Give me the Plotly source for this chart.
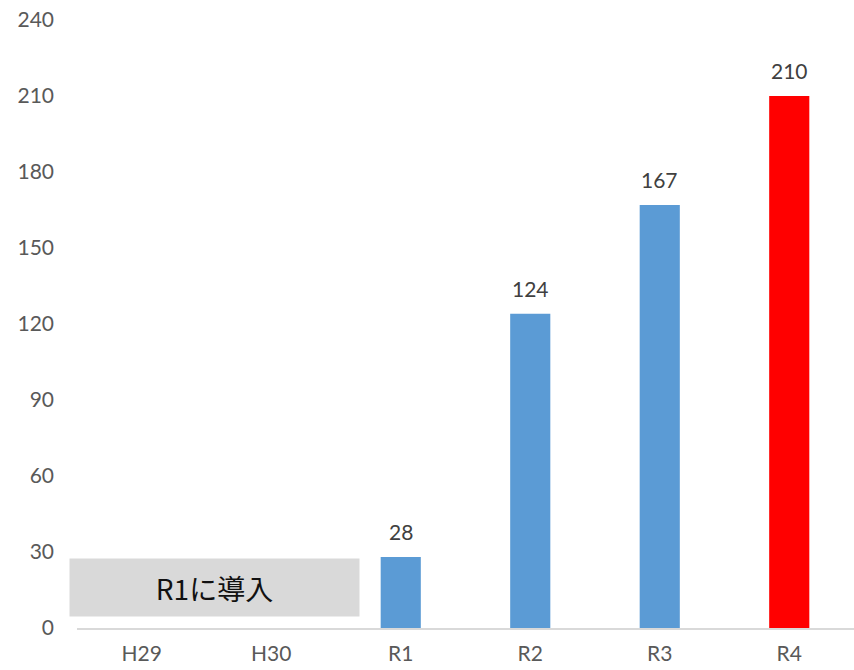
import plotly.graph_objects as go

# Fiscal years and counts
years = ["H29", "H30", "R1", "R2", "R3", "R4"]
counts = [None, None, 28, 124, 167, 210]
bar_colors = ["#5B9BD5", "#5B9BD5", "#5B9BD5", "#5B9BD5", "#5B9BD5", "#FF0000"]
y_ticks = [0, 30, 60, 90, 120, 150, 180, 210, 240]

FONT = "Lato, 'Open Sans', sans-serif"

fig = go.Figure(
    go.Bar(
        x=years,
        y=counts,
        width=0.31,
        marker=dict(color=bar_colors, line=dict(width=0)),
        hoverinfo="x+y",
    )
)

# Value labels placed a little above each bar
for yr, v in zip(years, counts):
    if v is None:
        continue
    fig.add_annotation(
        x=yr, y=v, xref="x", yref="y",
        text=str(v), showarrow=False,
        yanchor="bottom", yshift=11,
        font=dict(family=FONT, size=21, color="#404040"),
    )

# Note box spanning the years before introduction
fig.add_annotation(
    x=0.559, y=16, xref="x", yref="y",
    text="R1に導入",
    showarrow=False,
    bgcolor="#D9D9D9",
    width=287, height=55,
    font=dict(family="'Noto Sans CJK JP', sans-serif", size=28, color="#111111"),
    align="center", valign="middle",
)

fig.update_layout(
    width=854, height=670,
    margin=dict(l=77, r=0, t=20, b=42),
    paper_bgcolor="white",
    plot_bgcolor="white",
    showlegend=False,
    font=dict(family=FONT, size=21, color="#595959"),
)
fig.update_xaxes(
    automargin=False,
    range=[-0.5, len(years) - 0.5],
    showgrid=False,
    showline=True, linecolor="#D9D9D9", linewidth=1.5,
    ticks="", ticklabelstandoff=6,
    tickfont=dict(size=21, color="#595959"),
)
fig.update_yaxes(
    automargin=False,
    range=[0, 240],
    tickvals=y_ticks,
    showgrid=False, zeroline=False, showline=False,
    ticks="", ticklabelstandoff=22,
    tickfont=dict(size=21, color="#595959"),
)

fig.write_html("out.html")
